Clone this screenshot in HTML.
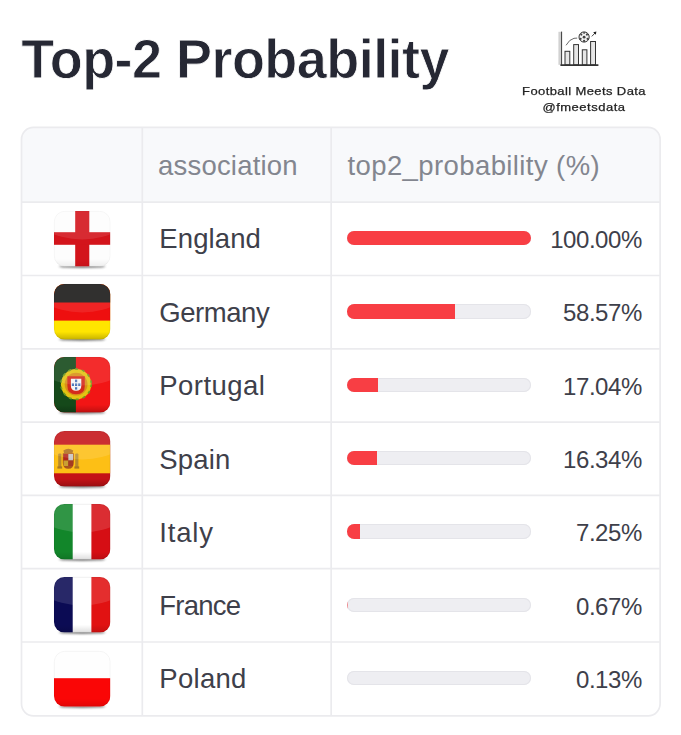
<!DOCTYPE html>
<html>
<head>
<meta charset="utf-8">
<style>
  html, body { margin: 0; padding: 0; overflow: hidden; }
  body {
    width: 681px; height: 735px; background: #ffffff; position: relative; overflow: hidden;
    font-family: "Liberation Sans", sans-serif; color: #3a3c48;
  }
  .abs { position: absolute; }
  #title {
    left: 21.3px; top: 29.1px; font-size: 54px; font-weight: bold; color: #262834;
    line-height: 60px; white-space: nowrap; letter-spacing: -0.55px; -webkit-text-stroke: 0.8px #ffffff;
    transform: scaleY(1.045); transform-origin: 0 48.7px;
  }
  #brand1, #brand2 { color: #222222; -webkit-text-stroke: 0.25px #222222; white-space: nowrap; text-align: center; width: 160px; left: 504px; font-size: 11.5px; line-height: 14px; transform-origin: 50% 50%; }
  #brand1 { top: 84px; letter-spacing: 0.35px; transform: scaleX(1.13); }
  #brand2 { top: 100px; letter-spacing: 0.45px; transform: scaleX(1.13); }
  #table {
    left: 20.8px; top: 126.6px; width: 640px; height: 589.9px;
    border: 1.4px solid #ebebee; border-radius: 12.5px; box-sizing: border-box; overflow: hidden; background: #fff;
  }
  #thead { left: 0; top: 0; width: 100%; height: 73.5px; background: #f8f9fb; }
  .hline { left: 0; width: 100%; height: 1.4px; background: #ebebee; }
  .vline { top: 0; height: 100%; width: 1.4px; background: #ebebee; }
  .hcell { color: #83868f; font-size: 27.5px; line-height: 30px; white-space: nowrap; }
  .name { color: #3e404a; font-size: 27.5px; line-height: 30px; white-space: nowrap; left: 159.3px; }
  .num { color: #3e404a; font-size: 24px; line-height: 30px; white-space: nowrap; right: 39.2px; text-align: right; letter-spacing: -0.45px; }
  .track { left: 346.8px; width: 184px; height: 14.4px; border-radius: 7.2px; background: #eeeef2; overflow: hidden; box-shadow: inset 0 0 0 1px #e4e4e9; }
  .fill { left: 0; top: 0; height: 100%; background: #f83e44; }
</style>
</head>
<body>
<div id="title" class="abs">Top-2 Probability</div>

<svg class="abs" style="left:545px;top:20px" width="70" height="60" viewBox="545 20 70 60">
  <rect x="558.4" y="31.8" width="3" height="33" fill="#d2d2d2"/>
  <line x1="561.6" y1="31.6" x2="561.6" y2="65.5" stroke="#3a3a3a" stroke-width="1"/>
  <g fill="#e6e6e6" stroke="#333" stroke-width="1">
    <rect x="565" y="51.3" width="4.8" height="13.6"/>
    <rect x="573.7" y="44.6" width="4.8" height="20.3"/>
    <rect x="582.3" y="49.8" width="4.6" height="15.1"/>
    <rect x="590.6" y="41.5" width="4.9" height="23.4"/>
  </g>
  <line x1="560.4" y1="65.1" x2="598.4" y2="65.1" stroke="#333" stroke-width="1.6"/>
  <path d="M566 45.3 Q569.5 39.200 574 38.3 L577.2 38.1" fill="none" stroke="#444" stroke-width="0.8"/>
  <circle cx="584.1" cy="37" r="5.1" fill="#f2f2f2" stroke="#333" stroke-width="1"/>
  <g fill="#444">
    <circle cx="584.1" cy="37.2" r="1.4"/>
    <circle cx="581.3" cy="34.6" r="1.1"/>
    <circle cx="586.9" cy="34.6" r="1.1"/>
    <circle cx="580.6" cy="38.8" r="1.1"/>
    <circle cx="587.6" cy="38.8" r="1.1"/>
    <circle cx="584.1" cy="40.9" r="1.1"/>
    <circle cx="584.1" cy="32.9" r="0.9"/>
  </g>
  <line x1="591.8" y1="36.4" x2="595" y2="33" stroke="#333" stroke-width="0.9"/>
  <path d="M596.4 31.6 L593.2 32.2 L595.8 34.8 Z" fill="#222"/>
</svg>
<div id="brand1" class="abs">Football Meets Data</div>
<div id="brand2" class="abs">@fmeetsdata</div>

<svg class="abs" style="left:0;top:0" width="681" height="735" viewBox="0 0 681 735">
  <defs><clipPath id="tc"><rect x="21.5" y="127.3" width="638.6" height="588.5" rx="12" ry="12"/></clipPath></defs>
  <rect x="21.5" y="127.3" width="638.6" height="588.5" rx="12" ry="12" fill="#ffffff"/>
  <rect x="21.5" y="127.3" width="638.6" height="74.9" fill="#f8f9fb" clip-path="url(#tc)"/>
  <g stroke="#ebebee" stroke-width="1.7" fill="none">
    <line x1="142.3" y1="127.3" x2="142.3" y2="715.8"/>
    <line x1="331.15" y1="127.3" x2="331.15" y2="715.8"/>
    <line x1="21.5" y1="202.20" x2="660.1" y2="202.20"/>
    <line x1="21.5" y1="275.50" x2="660.1" y2="275.50"/>
    <line x1="21.5" y1="348.80" x2="660.1" y2="348.80"/>
    <line x1="21.5" y1="422.10" x2="660.1" y2="422.10"/>
    <line x1="21.5" y1="495.40" x2="660.1" y2="495.40"/>
    <line x1="21.5" y1="568.70" x2="660.1" y2="568.70"/>
    <line x1="21.5" y1="642.00" x2="660.1" y2="642.00"/>
    <rect x="21.5" y="127.3" width="638.6" height="588.5" rx="12" ry="12"/>
  </g>
</svg>

<div class="abs hcell" style="left:158px;top:151px;letter-spacing:0.2px">association</div>
<div class="abs hcell" style="left:347.5px;top:151px;letter-spacing:0.4px">top2_probability (%)</div>

<div class="abs name" style="top:224px;letter-spacing:0.1px">England</div>
<div class="abs name" style="top:298px;letter-spacing:-0.45px">Germany</div>
<div class="abs name" style="top:371px;letter-spacing:0.45px">Portugal</div>
<div class="abs name" style="top:445px;letter-spacing:0.15px">Spain</div>
<div class="abs name" style="top:518px;letter-spacing:0.8px">Italy</div>
<div class="abs name" style="top:591px;letter-spacing:-0.75px">France</div>
<div class="abs name" style="top:664px;letter-spacing:0.28px">Poland</div>
<div class="abs track" style="top:231.10px"><div class="abs fill" style="width:100.00%"></div></div>
<div class="abs track" style="top:304.43px"><div class="abs fill" style="width:58.57%"></div></div>
<div class="abs track" style="top:377.76px"><div class="abs fill" style="width:17.04%"></div></div>
<div class="abs track" style="top:451.09px"><div class="abs fill" style="width:16.34%"></div></div>
<div class="abs track" style="top:524.42px"><div class="abs fill" style="width:7.25%"></div></div>
<div class="abs track" style="top:597.75px"><div class="abs fill" style="width:1.3px;opacity:0.55"></div></div>
<div class="abs track" style="top:671.08px"><div class="abs fill" style="width:0px"></div></div>
<div class="abs num" style="top:225px">100.00%</div>
<div class="abs num" style="top:298px">58.57%</div>
<div class="abs num" style="top:372px">17.04%</div>
<div class="abs num" style="top:445px">16.34%</div>
<div class="abs num" style="top:518px">7.25%</div>
<div class="abs num" style="top:592px">0.67%</div>
<div class="abs num" style="top:665px">0.13%</div>

<svg class="abs" style="left:49.7px;top:206.60px" width="64.4" height="65.6" viewBox="-4 -4 64.4 65.6">
<defs><clipPath id="c0"><rect x="0" y="0" width="56.4" height="55.6" rx="10.5" ry="10.5"/></clipPath>
<linearGradient id="s0" x1="0" y1="0" x2="0" y2="1"><stop offset="0" stop-color="#000" stop-opacity="0"/><stop offset="0.86" stop-color="#000" stop-opacity="0"/><stop offset="1" stop-color="#000" stop-opacity="0.06"/></linearGradient>
<filter id="b0" x="-20%" y="-200%" width="140%" height="500%"><feGaussianBlur stdDeviation="0.9"/></filter></defs>
<ellipse cx="28.2" cy="55.4" rx="23.2" ry="1.6" fill="#555" opacity="0.75" filter="url(#b0)"/>
<g clip-path="url(#c0)">
<rect width="56.4" height="55.6" fill="#fdfdfd"/>
<rect x="21.2" y="0" width="14.1" height="55.6" fill="#d3141b"/>
<rect x="0" y="21.2" width="56.4" height="12.6" fill="#d3141b"/>
<ellipse cx="28.2" cy="-6" rx="53.58" ry="34.472" fill="#fff" opacity="0.1"/>
<rect x="0" y="0" width="56.4" height="55.6" fill="url(#s0)"/>
</g>
<rect x="0.3" y="0.3" width="55.8" height="55.0" rx="10.5" ry="10.5" fill="none" stroke="rgba(0,0,0,0.06)" stroke-width="0.6"/>
</svg>
<svg class="abs" style="left:49.7px;top:279.93px" width="64.4" height="65.6" viewBox="-4 -4 64.4 65.6">
<defs><clipPath id="c1"><rect x="0" y="0" width="56.4" height="55.6" rx="10.5" ry="10.5"/></clipPath>
<linearGradient id="s1" x1="0" y1="0" x2="0" y2="1"><stop offset="0" stop-color="#000" stop-opacity="0"/><stop offset="0.86" stop-color="#000" stop-opacity="0"/><stop offset="1" stop-color="#000" stop-opacity="0.22"/></linearGradient>
<filter id="b1" x="-20%" y="-200%" width="140%" height="500%"><feGaussianBlur stdDeviation="0.9"/></filter></defs>
<ellipse cx="28.2" cy="55.4" rx="23.2" ry="1.6" fill="#555" opacity="0.75" filter="url(#b1)"/>
<g clip-path="url(#c1)">
<rect width="56.4" height="55.6" fill="#ffe500"/>
<rect width="56.4" height="36.6" fill="#ee0f0f"/>
<rect width="56.4" height="18.5" fill="#1d1c1b"/>
<ellipse cx="28.2" cy="-6" rx="53.58" ry="34.472" fill="#fff" opacity="0.09"/>
<rect x="0" y="0" width="56.4" height="55.6" fill="url(#s1)"/>
</g>
<rect x="0.3" y="0.3" width="55.8" height="55.0" rx="10.5" ry="10.5" fill="none" stroke="rgba(0,0,0,0.10)" stroke-width="0.6"/>
</svg>
<svg class="abs" style="left:49.7px;top:353.26px" width="64.4" height="65.6" viewBox="-4 -4 64.4 65.6">
<defs><clipPath id="c2"><rect x="0" y="0" width="56.4" height="55.6" rx="10.5" ry="10.5"/></clipPath>
<linearGradient id="s2" x1="0" y1="0" x2="0" y2="1"><stop offset="0" stop-color="#000" stop-opacity="0"/><stop offset="0.86" stop-color="#000" stop-opacity="0"/><stop offset="1" stop-color="#000" stop-opacity="0.22"/></linearGradient>
<filter id="b2" x="-20%" y="-200%" width="140%" height="500%"><feGaussianBlur stdDeviation="0.9"/></filter></defs>
<ellipse cx="28.2" cy="55.4" rx="23.2" ry="1.6" fill="#555" opacity="0.75" filter="url(#b2)"/>
<g clip-path="url(#c2)">
<rect width="56.4" height="55.6" fill="#f21515"/>
<rect width="21.9" height="55.6" fill="#15491a"/>
<circle cx="22.1" cy="27.2" r="15.2" fill="#e3c312"/>
<circle cx="22.1" cy="27.2" r="15.2" fill="none" stroke="#6f9a1c" stroke-width="1.6" stroke-dasharray="3 4"/>
<circle cx="22.1" cy="27.2" r="11.4" fill="#d98f18"/>
<path d="M13.4 19.3 h17.4 v9.7 q0 8.200 -8.700 8.200 q-8.700 0 -8.700 -8.200 z" fill="#d42a1c"/>
<path d="M16.9 21.8 h10.4 v7 q0 5 -5.200 5 q-5.200 0 -5.200 -5 z" fill="#f4f4f4"/>
<g fill="#4b74b8"><rect x="21" y="22.6" width="2.2" height="2.6"/><rect x="21" y="26.4" width="2.2" height="2.6"/><rect x="21" y="30.2" width="2.2" height="2.4"/><rect x="17.8" y="26.4" width="2.2" height="2.6"/><rect x="24.2" y="26.4" width="2.2" height="2.6"/></g>
<ellipse cx="28.2" cy="-6" rx="53.58" ry="34.472" fill="#fff" opacity="0.1"/>
<rect x="0" y="0" width="56.4" height="55.6" fill="url(#s2)"/>
</g>
<rect x="0.3" y="0.3" width="55.8" height="55.0" rx="10.5" ry="10.5" fill="none" stroke="rgba(0,0,0,0.10)" stroke-width="0.6"/>
</svg>
<svg class="abs" style="left:49.7px;top:426.59px" width="64.4" height="65.6" viewBox="-4 -4 64.4 65.6">
<defs><clipPath id="c3"><rect x="0" y="0" width="56.4" height="55.6" rx="10.5" ry="10.5"/></clipPath>
<linearGradient id="s3" x1="0" y1="0" x2="0" y2="1"><stop offset="0" stop-color="#000" stop-opacity="0"/><stop offset="0.86" stop-color="#000" stop-opacity="0"/><stop offset="1" stop-color="#000" stop-opacity="0.22"/></linearGradient>
<filter id="b3" x="-20%" y="-200%" width="140%" height="500%"><feGaussianBlur stdDeviation="0.9"/></filter></defs>
<ellipse cx="28.2" cy="55.4" rx="23.2" ry="1.6" fill="#555" opacity="0.75" filter="url(#b3)"/>
<g clip-path="url(#c3)">
<rect width="56.4" height="55.6" fill="#c41216"/>
<rect y="13.7" width="56.4" height="28.6" fill="#fdbf15"/>
<defs><filter id="eb" x="-10%" y="-10%" width="120%" height="120%"><feGaussianBlur stdDeviation="0.35"/></filter></defs>
<g filter="url(#eb)">
<rect x="4.2" y="22.5" width="3.2" height="14.5" rx="1" fill="#b98a2a"/>
<rect x="21.2" y="22.5" width="3.2" height="14.5" rx="1" fill="#b98a2a"/>
<rect x="3.4" y="35.4" width="4.8" height="2.2" fill="#a97722"/>
<rect x="20.400" y="35.4" width="4.8" height="2.2" fill="#a97722"/>
<path d="M9.4 19.4 q4.900 -3.400 9.8 0 l-0.8 3 h-8.200 z" fill="#b0701c"/>
<path d="M8.800 22.2 h11 v9.5 q0 6 -5.500 6 q-5.500 0 -5.500 -6 z" fill="#a8551c"/>
<rect x="9.6" y="23" width="4.6" height="6.4" fill="#b3261e"/>
<rect x="14.4" y="23" width="4.6" height="6.4" fill="#c9c4c0"/>
<rect x="9.6" y="29.6" width="4.6" height="5.400" fill="#c9a032"/>
<rect x="14.4" y="29.6" width="4.6" height="5.400" fill="#a53a22"/>
</g>
<ellipse cx="28.2" cy="-6" rx="53.58" ry="34.472" fill="#fff" opacity="0.12"/>
<rect x="0" y="0" width="56.4" height="55.6" fill="url(#s3)"/>
</g>
<rect x="0.3" y="0.3" width="55.8" height="55.0" rx="10.5" ry="10.5" fill="none" stroke="rgba(0,0,0,0.10)" stroke-width="0.6"/>
</svg>
<svg class="abs" style="left:49.7px;top:499.92px" width="64.4" height="65.6" viewBox="-4 -4 64.4 65.6">
<defs><clipPath id="c4"><rect x="0" y="0" width="56.4" height="55.6" rx="10.5" ry="10.5"/></clipPath>
<linearGradient id="s4" x1="0" y1="0" x2="0" y2="1"><stop offset="0" stop-color="#000" stop-opacity="0"/><stop offset="0.86" stop-color="#000" stop-opacity="0"/><stop offset="1" stop-color="#000" stop-opacity="0.13"/></linearGradient>
<filter id="b4" x="-20%" y="-200%" width="140%" height="500%"><feGaussianBlur stdDeviation="0.9"/></filter></defs>
<ellipse cx="28.2" cy="55.4" rx="23.2" ry="1.6" fill="#555" opacity="0.75" filter="url(#b4)"/>
<g clip-path="url(#c4)">
<rect width="56.4" height="55.6" fill="#ffffff"/>
<rect width="18.7" height="55.6" fill="#12862a"/>
<rect x="37.4" width="19" height="55.6" fill="#d60e14"/>
<ellipse cx="28.2" cy="-6" rx="53.58" ry="34.472" fill="#fff" opacity="0.13"/>
<rect x="0" y="0" width="56.4" height="55.6" fill="url(#s4)"/>
</g>
<rect x="0.3" y="0.3" width="55.8" height="55.0" rx="10.5" ry="10.5" fill="none" stroke="rgba(0,0,0,0.10)" stroke-width="0.6"/>
</svg>
<svg class="abs" style="left:49.7px;top:573.25px" width="64.4" height="65.6" viewBox="-4 -4 64.4 65.6">
<defs><clipPath id="c5"><rect x="0" y="0" width="56.4" height="55.6" rx="10.5" ry="10.5"/></clipPath>
<linearGradient id="s5" x1="0" y1="0" x2="0" y2="1"><stop offset="0" stop-color="#000" stop-opacity="0"/><stop offset="0.86" stop-color="#000" stop-opacity="0"/><stop offset="1" stop-color="#000" stop-opacity="0.13"/></linearGradient>
<filter id="b5" x="-20%" y="-200%" width="140%" height="500%"><feGaussianBlur stdDeviation="0.9"/></filter></defs>
<ellipse cx="28.2" cy="55.4" rx="23.2" ry="1.6" fill="#555" opacity="0.75" filter="url(#b5)"/>
<g clip-path="url(#c5)">
<rect width="56.4" height="55.6" fill="#ffffff"/>
<rect width="18.7" height="55.6" fill="#0b0b54"/>
<rect x="37.4" width="19" height="55.6" fill="#e11212"/>
<ellipse cx="28.2" cy="-6" rx="53.58" ry="34.472" fill="#fff" opacity="0.12"/>
<rect x="0" y="0" width="56.4" height="55.6" fill="url(#s5)"/>
</g>
<rect x="0.3" y="0.3" width="55.8" height="55.0" rx="10.5" ry="10.5" fill="none" stroke="rgba(0,0,0,0.10)" stroke-width="0.6"/>
</svg>
<svg class="abs" style="left:49.7px;top:646.58px" width="64.4" height="65.6" viewBox="-4 -4 64.4 65.6">
<defs><clipPath id="c6"><rect x="0" y="0" width="56.4" height="55.6" rx="10.5" ry="10.5"/></clipPath>
<linearGradient id="s6" x1="0" y1="0" x2="0" y2="1"><stop offset="0" stop-color="#000" stop-opacity="0"/><stop offset="0.86" stop-color="#000" stop-opacity="0"/><stop offset="1" stop-color="#000" stop-opacity="0.1"/></linearGradient>
<filter id="b6" x="-20%" y="-200%" width="140%" height="500%"><feGaussianBlur stdDeviation="0.9"/></filter></defs>
<ellipse cx="28.2" cy="55.4" rx="23.2" ry="1.6" fill="#555" opacity="0.75" filter="url(#b6)"/>
<g clip-path="url(#c6)">
<rect width="56.4" height="55.6" fill="#fefefe"/>
<rect y="27.200" width="56.4" height="55.6" fill="#fa0606"/>
<ellipse cx="28.2" cy="-6" rx="53.58" ry="34.472" fill="#fff" opacity="0.0"/>
<rect x="0" y="0" width="56.4" height="55.6" fill="url(#s6)"/>
</g>
<rect x="0.3" y="0.3" width="55.8" height="55.0" rx="10.5" ry="10.5" fill="none" stroke="rgba(0,0,0,0.07)" stroke-width="0.6"/>
</svg>
</body>
</html>
